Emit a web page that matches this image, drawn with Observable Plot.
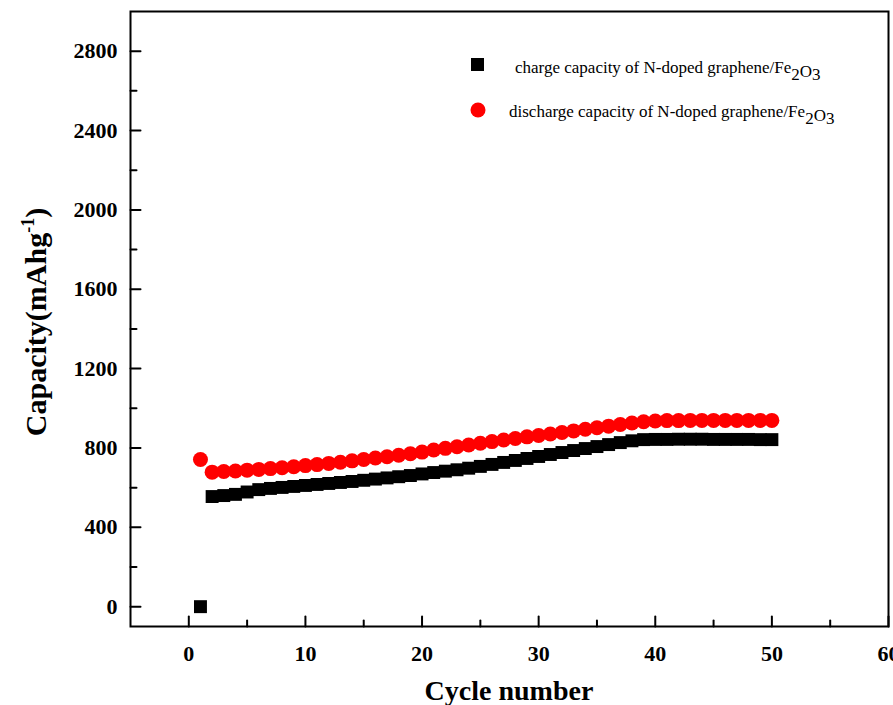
<!DOCTYPE html>
<html>
<head>
<meta charset="utf-8">
<script src="https://cdn.jsdelivr.net/npm/d3@7"></script>
<script src="https://cdn.jsdelivr.net/npm/@observablehq/plot@0.6"></script>
<style>
  body { margin: 0; background: #fff; }
</style>
</head>
<body>
<div id="chart"></div>
<script>
const cycles = [1,2,3,4,5,6,7,8,9,10,11,12,13,14,15,16,17,18,19,20,21,22,23,24,25,26,27,28,29,30,31,32,33,34,35,36,37,38,39,40,41,42,43,44,45,46,47,48,49,50];
const chargeCapacity = [0,555,560,566,578,590,596,601,606,611,616,621,626,631,637,643,649,655,661,669,676,683,690,698,707,717,727,737,747,757,767,777,787,797,807,817,827,836,842,843,843,844,844,844,843,843,843,843,842,842];
const dischargeCapacity = [742,678,681,684,688,692,696,700,705,711,716,722,728,735,742,749,756,763,771,779,790,798,806,815,824,832,840,848,856,863,870,878,886,894,902,910,918,926,932,936,938,938,939,939,939,939,939,939,939,939];
const xTicks = [0,10,20,30,40,50,60];
const xMinorTicks = [5,15,25,35,45,55];
const yTicks = [0,400,800,1200,1600,2000,2400,2800];
const yMinorTicks = [200,600,1000,1400,1800,2200,2600];
const xTitle = "Cycle number";
const yTitle = "Capacity(mAhg";
const ySup = "-1";
const legendCharge = "charge capacity of N-doped graphene/Fe";
const legendDischarge = "discharge capacity of N-doped graphene/Fe";

const charge = cycles.map((c, i) => ({cycle: c, value: chargeCapacity[i]}));
const discharge = cycles.map((c, i) => ({cycle: c, value: dischargeCapacity[i]}));

const font = "'Liberation Serif', 'Times New Roman', serif";

// simple straight-line shape for inward tick marks
const tickShape = {draw(context, l) { context.moveTo(0, 0); context.lineTo(0, -l); }};
const tickStyle = {shape: tickShape, anchor: "start", stroke: "#000", strokeWidth: 2};

const chart = Plot.plot({
  width: 893,
  height: 705,
  marginLeft: 130,
  marginRight: 5,
  marginTop: 11,
  marginBottom: 79,
  style: {fontFamily: font, background: "#fff", color: "#000"},
  x: {domain: [-5, 60]},
  y: {domain: [-100, 3000]},
  marks: [
    Plot.axisX(xTicks, {tickSize: 0, tickPadding: 19, fontSize: 22, fontWeight: "bold", tickFormat: d => String(d), label: null}),
    Plot.axisY(yTicks, {tickSize: 0, tickPadding: 13, fontSize: 22, fontWeight: "bold", tickFormat: d => String(d), label: null}),
    Plot.vector(xTicks, {x: d => d, frameAnchor: "bottom", length: 10, rotate: 0, ...tickStyle}),
    Plot.vector(xMinorTicks, {x: d => d, frameAnchor: "bottom", length: 6, rotate: 0, ...tickStyle}),
    Plot.vector(yTicks, {y: d => d, frameAnchor: "left", length: 10, rotate: 90, ...tickStyle}),
    Plot.vector(yMinorTicks, {y: d => d, frameAnchor: "left", length: 6, rotate: 90, ...tickStyle}),
    Plot.frame({stroke: "#000", strokeWidth: 2}),
    Plot.dot(charge, {x: "cycle", y: "value", symbol: "square", r: 7.3, fill: "#000", stroke: "none"}),
    Plot.dot(discharge, {x: "cycle", y: "value", symbol: "circle", r: 7.5, fill: "#ff0000", stroke: "none"})
  ]
});

document.getElementById("chart").appendChild(chart);

const svg = d3.select(chart);

// X title
svg.append("text")
  .attr("x", 509).attr("y", 700)
  .attr("text-anchor", "middle")
  .attr("font-family", font).attr("font-weight", "bold").attr("font-size", 28)
  .attr("fill", "#000")
  .text(xTitle);

// Y title
const yt = svg.append("text")
  .attr("transform", "translate(46,322) rotate(-90)")
  .attr("text-anchor", "middle")
  .attr("font-family", font).attr("font-weight", "bold").attr("font-size", 30)
  .attr("fill", "#000");
yt.append("tspan").text(yTitle);
yt.append("tspan").attr("dy", -12).attr("font-size", 18).text(ySup);
yt.append("tspan").attr("dy", 12).text(")");

// Legend
const lg = svg.append("g").attr("font-family", font).attr("font-size", 17).attr("fill", "#000").attr("text-anchor", "start");
lg.append("rect").attr("x", 471).attr("y", 58).attr("width", 13).attr("height", 13).attr("fill", "#000");
lg.append("circle").attr("cx", 478).attr("cy", 110).attr("r", 7.5).attr("fill", "#ff0000");
function legendText(x, y, label) {
  const t = lg.append("text").attr("x", x).attr("y", y).attr("text-anchor", "start");
  t.append("tspan").text(label);
  t.append("tspan").attr("dy", 7).text("2");
  t.append("tspan").attr("dy", -3).text("O");
  t.append("tspan").attr("dy", 3).text("3");
}
legendText(515, 73, legendCharge);
legendText(509, 117, legendDischarge);
</script>
</body>
</html>
